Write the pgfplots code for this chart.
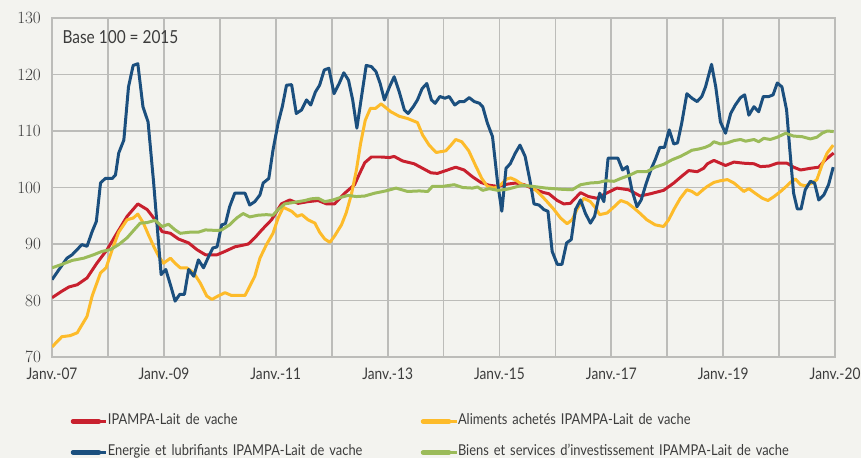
\documentclass[border=0pt]{standalone}
\usepackage{pgfplots}
\pgfplotsset{compat=1.18}
\usepackage{fontspec}
\setmainfont[FakeStretch=0.86]{Lato}
\definecolor{bg}{HTML}{F3F3EF}
\definecolor{gridc}{RGB}{188,188,185}
\definecolor{txt}{HTML}{3C3C3C}
\definecolor{cred}{HTML}{C8202E}
\definecolor{cyel}{HTML}{FDBB2A}
\definecolor{cblue}{HTML}{1B4F7E}
\definecolor{cgreen}{HTML}{9BBB59}
\begin{document}
\pagecolor{bg}
\begin{tikzpicture}
\path[use as bounding box] (0bp,0bp) rectangle (861bp,459bp);
\begin{axis}[
  at={(50bp,101bp)}, anchor=south west,
  scale only axis, width=785bp, height=340bp,
  xmin=0, xmax=168, ymin=70, ymax=130,
  xtick={0,12,...,168},
  xticklabels={Janv.-07,,Janv.-09,,Janv.-11,,Janv.-13,,Janv.-15,,Janv.-17,,Janv.-19,,Janv.-20},
  ytick={70,80,...,130},
  xmajorgrids, ymajorgrids,
  major grid style={draw=gridc, line width=1.8bp},
  axis line style={draw=gridc, line width=1.8bp},
  tick align=inside,
  major tick length=2bp,
  major tick style={draw=gridc, line width=1.8bp},
  tick label style={font=\fontsize{16bp}{18bp}\selectfont, text=txt},
  yticklabel style={inner sep=0pt, xshift=-11bp},
  xticklabel style={inner sep=0pt, yshift=-11bp},
  every axis plot/.append style={line width=3bp, line join=round, no markers},
  legend columns=2,
  legend cell align=left,
  legend style={at={(0,0)}, anchor=north west, xshift=17bp, yshift=-58bp,
    draw=none, fill=none, inner sep=0pt, outer sep=0pt, row sep=18bp,
    font=\fontsize{15bp}{17bp}\selectfont, text=txt,
    nodes={inner sep=0pt, text height=10bp, text depth=3bp, text width=312bp, align=left}},
  legend image code/.code={\path (0bp,0bp) -- (36bp,0bp); \draw[#1, line width=4.5bp, line cap=round] (2.5bp,0bp) -- (28.5bp,0bp);},
]
\addplot[cred] coordinates {(0,80.5)(1.8,81.5)(3.6,82.4)(5.4,82.8)(7.5,84)(9.6,86.6)(11.8,89)(13.9,91.9)(16.1,94.9)(18.4,97.1)(20.4,96.1)(22.1,94.3)(23.6,92.2)(25.4,91.9)(27.1,90.9)(29.3,90.2)(31.1,89)(32.9,88.1)(35.4,88.1)(37.1,88.7)(39.2,89.5)(42.1,90)(43.5,91.1)(45,92.5)(47.1,94.3)(49.2,97.1)(51,97.8)(52.8,97.2)(54.9,97.5)(57.1,97.7)(58.9,97.1)(60.6,97.1)(62.8,99)(64.9,100.5)(66,102.5)(67.1,104.4)(68.5,105.4)(70.6,105.4)(72.4,105.3)(73.4,105.5)(75.2,104.7)(77.7,104.2)(79.5,103.4)(81.3,102.6)(82.7,102.5)(84.5,103)(86.6,103.6)(88.4,103.1)(90.2,101.9)(92,100.9)(93.8,100.4)(95.6,100.2)(97.7,100.6)(99.5,100.8)(101.3,100.5)(103.4,99.7)(105.5,99.1)(106.6,98.9)(108.4,97.7)(109.8,97.1)(111.2,97.2)(113.4,99.1)(115.1,98.4)(116.9,98.1)(118.7,98.9)(121.2,99.9)(123.7,99.6)(126.2,98.5)(128.4,98.9)(131.2,99.5)(133.4,100.8)(135.1,102)(136.6,103)(138.4,102.8)(139.8,103.4)(140.6,104.2)(142,104.8)(143.1,104.4)(144.5,103.9)(146.3,104.5)(148.4,104.3)(150.6,104.2)(152,103.7)(153.8,103.8)(155.6,104.3)(157.7,104.3)(159.1,103.6)(160.6,103.1)(162.7,103.4)(164.5,103.6)(165.9,104.9)(167.7,106.1)};
\addlegendentry{IPAMPA-Lait de vache}
\addplot[cyel] coordinates {(0,71.8)(2.1,73.6)(3.9,73.8)(5.4,74.3)(7.5,77.2)(8.6,80.8)(10.4,84.9)(11.6,85.8)(12.9,89)(14.3,92.1)(16.1,94.3)(17.4,94.6)(18.4,95.3)(19.6,93.7)(20.7,91.6)(21.8,89.6)(22.9,87.8)(23.9,86.6)(25.4,87.5)(26.4,86.6)(27.5,85.8)(28.9,85.8)(30.4,84.9)(31.8,83.1)(33.2,80.8)(34.3,80.2)(35.6,80.8)(37.1,81.4)(38.5,80.9)(39.9,80.9)(41.4,80.9)(42.4,82.5)(43.5,84.3)(44.6,87.5)(46,89.9)(47.4,91.9)(48.5,94.6)(49.6,96.5)(51.4,95.8)(52.6,94.9)(53.6,95.2)(54.9,94.3)(56.4,93.7)(57.4,92.1)(58.5,90.9)(59.6,90.3)(60.6,91.4)(62.1,93.4)(63.1,95.5)(64.2,98.7)(65.3,103.1)(66.2,107.8)(67.2,111.9)(68.3,114)(69.4,114)(70.6,114.8)(72.7,113.4)(74.5,112.6)(76.3,112.2)(78.4,111.5)(79.5,109.3)(80.9,107.5)(82.4,106.2)(84.5,106.5)(85.6,107.5)(86.6,108.5)(87.9,108.1)(89.4,106.5)(90.8,104)(92.2,101.6)(93.4,100.2)(94.9,99.9)(96.3,100.5)(97.5,101.5)(98.4,101.7)(99.5,101.3)(100.9,100.5)(102.7,100.2)(104.1,99.3)(105.2,98.4)(106.2,97.5)(107.6,96.2)(109.1,94.6)(110.5,93.6)(111.6,94.3)(112.6,96.1)(114.1,98.1)(115.5,97.5)(116.6,96.4)(117.5,95.2)(119.1,95.5)(120.6,96.6)(122,97.7)(123.4,97.3)(124.8,96.4)(126.2,95.4)(127.6,94.3)(129.4,93.4)(131.2,93.1)(132.3,94.3)(133.4,96.1)(134.8,98.1)(136.2,99.6)(137.3,99.3)(138.4,98.7)(139.8,99.7)(140.6,100.2)(142,100.9)(143.4,101.2)(144.9,101.4)(146.3,100.8)(147.6,99.9)(148.4,99.3)(149.5,99.8)(151,98.9)(152.4,98.1)(153.6,97.7)(154.9,98.4)(156.3,99.3)(157.4,100.1)(158.4,100.9)(159.5,101.5)(160.6,100.5)(161.6,100.3)(163.1,100.8)(164.1,101.4)(165.2,104)(166.3,106.1)(167.6,107.5)};
\addlegendentry{\mbox{Aliments achetés IPAMPA-Lait de vache}}
\addplot[cblue] coordinates {(0,83.7)(1.5,85.5)(3.2,87.5)(4.3,88.1)(6.4,89.9)(7.5,89.6)(8.6,92.2)(9.5,94)(10.4,100.8)(11.4,101.6)(12.9,101.6)(13.6,102.2)(14.3,106.1)(15.4,108.4)(16.4,117.8)(17.4,121.6)(18.4,121.9)(19.5,114.3)(20.6,111.6)(21.8,100.8)(22.5,93.7)(23.4,84.6)(24.4,85.5)(25.5,82.5)(26.4,79.9)(27.4,81.1)(28.4,81.1)(29.3,85.5)(30.4,84.3)(31.4,87.2)(32.5,85.8)(33.6,87.8)(34.5,89.3)(35.4,89.5)(36.4,93.4)(37.2,93.6)(38.1,96.6)(39.2,99)(41.4,99)(42.4,96.9)(43.5,97.5)(44.6,98.7)(45.3,100.8)(46.5,101.6)(47.4,106.6)(48.5,111.4)(49.4,114.3)(50.3,118.1)(51.4,118.2)(52.4,113.1)(53.5,113.7)(54.6,115.5)(55.5,114.6)(56.5,116.9)(57.4,118.1)(58.4,120.8)(59.4,121.1)(60.5,116.6)(61.6,118.4)(62.6,120.3)(63.6,119)(64.5,115.5)(65.4,110.5)(66.4,116.1)(67.4,121.6)(68.5,121.4)(69.5,120.5)(70.4,118.4)(71.3,115.5)(72.4,117.8)(73.4,119.6)(74.5,116.9)(75.6,113.7)(76.4,113.1)(77.5,114.3)(78.4,115.5)(79.4,117.5)(80.4,118.4)(81.4,115.5)(82.2,114.9)(83.2,116.1)(84.3,115.8)(85.2,116.1)(86.4,114.6)(87.4,115.2)(88.4,115.2)(89.5,115.9)(90.6,115.2)(91.7,114.9)(92.4,114.3)(93.4,111.4)(94.5,109)(95.6,100.8)(96.5,95.8)(97.4,103.4)(98.3,104.2)(99.4,106.1)(100.4,107.5)(101.5,105.5)(102.5,101.4)(103.4,97.1)(104.5,96.9)(105.5,96.1)(106.4,95.8)(107.3,88.7)(108.4,86.4)(109.4,86.4)(110.4,90.2)(111.4,90.8)(112.3,96.1)(113.4,97.8)(114.4,95.5)(115.5,93.7)(116.4,94.9)(117.5,99)(118.4,97.5)(119.3,105.2)(120.4,105.2)(121.4,105.2)(122.4,103.1)(123.4,103.7)(124.4,99.6)(125.5,96.6)(126.4,97.8)(127.5,100.8)(128.6,103.4)(129.4,104.9)(130.4,107.1)(131.4,107.1)(132.4,110.2)(133.4,107.7)(134.2,107.9)(135.1,111.4)(136.2,116.6)(137.3,115.8)(138.4,115.2)(139.4,116.1)(140.2,117.8)(141.5,121.8)(142.4,117.8)(143.4,111.6)(144.5,109.6)(145.6,113.1)(146.6,114.6)(147.7,115.9)(148.6,116.4)(149.5,112.8)(150.6,114.3)(151.6,113.4)(152.6,116.1)(153.8,116.1)(154.7,116.4)(155.6,118.5)(156.6,117.8)(157.6,113.7)(158.3,106.6)(159.1,99)(159.9,96.2)(160.7,96.2)(161.6,99.6)(162.7,101.1)(163.6,100.8)(164.5,97.8)(165.6,98.7)(166.6,100.5)(167.6,103.6)};
\addlegendentry{Energie et lubrifiants IPAMPA-Lait de vache}
\addplot[cgreen] coordinates {(0,85.8)(2.1,86.4)(4.3,87.1)(6.8,87.5)(8.9,88.1)(10.7,88.7)(12.5,89)(14.3,89.9)(16.1,91.1)(17.6,92.5)(18.9,93.7)(20.4,93.8)(22.1,94.2)(23.6,93.1)(25,93.5)(26.4,92.5)(27.5,91.9)(29.6,92.1)(31.4,92.1)(32.9,92.5)(35.4,92.4)(36.4,92.5)(38.1,93.4)(39.6,94.6)(41,95.4)(42.4,94.8)(44.2,95.1)(46,95.2)(47.4,95.1)(48.5,96.1)(49.9,97.1)(52.1,97.4)(54.2,97.7)(55.6,98)(57.1,98.1)(58.5,97.5)(60.3,97.8)(61.7,98.2)(63.5,98.6)(65.3,98.4)(67.1,98.5)(69.2,99)(71.6,99.4)(73.8,99.9)(76.3,99.3)(78.8,99.4)(80.6,99.3)(81.6,100.2)(83.8,100.2)(86.3,100.5)(88.1,100)(90.2,99.9)(91.3,100.1)(92.4,99.5)(93.8,99.8)(95.6,99.5)(97.7,99.7)(99.5,100.1)(100.9,100.4)(103.1,100.2)(106,99.9)(109.1,99.7)(111.6,99.6)(113.4,100.5)(115.5,100.8)(117.3,100.9)(118.7,101.2)(120.6,101.1)(122,101.6)(123.7,102.1)(125.5,102.8)(127.6,102.8)(129.4,103.6)(131.2,104.1)(133,104.9)(134.8,105.5)(136.2,106.1)(137.3,106.6)(138.7,106.8)(140.1,107.1)(141.2,107.5)(142,108.1)(143.4,107.7)(144.9,107.9)(146.3,108.3)(147.7,108.5)(148.8,108.2)(150.6,108.5)(151.6,108.1)(152.7,108.7)(154.1,108.5)(155.6,108.9)(157.4,109.6)(159.1,109.1)(160.9,109)(162.7,108.6)(164.1,108.9)(165.2,109.6)(166.3,110)(167.7,109.9)};
\addlegendentry{\mbox{Biens et services d'investissement IPAMPA-Lait de vache}}
\node[anchor=west, text=txt, font=\fontsize{18bp}{20bp}\selectfont, inner sep=0pt] at (axis cs:2.2,126.6) {Base 100 = 2015};
\end{axis}
\end{tikzpicture}
\end{document}
